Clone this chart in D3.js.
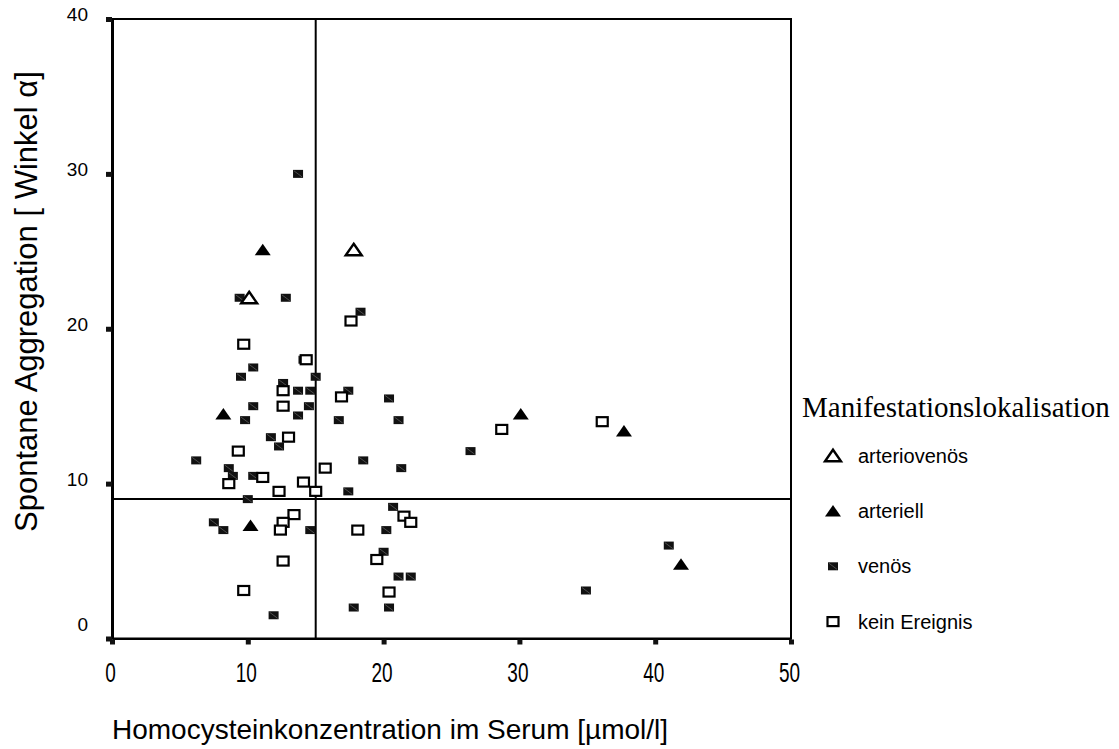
<!DOCTYPE html>
<html>
<head>
<meta charset="utf-8">
<script src="https://cdn.jsdelivr.net/npm/d3@7"></script>
<style>
  body { margin: 0; background: #fff; }
  text { font-family: "Liberation Sans", Arial, sans-serif; fill: #000; }
</style>
</head>
<body>
<svg id="chart" width="1119" height="749"></svg>
<script>
// data: [Homocystein µmol/l, Winkel α]
const arteriovenos = [[17.8, 25.1], [10.1, 22.0]];
const arteriell = [[11.1, 25.1], [8.2, 14.5], [10.2, 7.3], [30.1, 14.5], [37.7, 13.4], [41.9, 4.8]];
const venos = [
  [13.7, 30.0], [9.4, 22.0], [12.8, 22.0], [18.3, 21.1], [14.1, 18.0], [10.4, 17.5],
  [9.5, 16.9], [15.0, 16.9], [12.6, 16.5], [13.7, 16.0], [14.6, 16.0], [17.4, 16.0],
  [10.4, 15.0], [14.5, 15.0], [13.7, 14.4], [9.8, 14.1], [16.7, 14.1], [11.7, 13.0],
  [12.3, 12.4], [6.2, 11.5], [18.5, 11.5], [8.6, 11.0], [8.9, 10.5], [10.4, 10.5],
  [17.4, 9.5], [10.0, 9.0], [7.5, 7.5], [8.2, 7.0], [14.6, 7.0], [11.9, 1.5],
  [17.8, 2.0], [20.4, 15.5], [21.1, 14.1], [26.4, 12.1], [21.3, 11.0], [20.7, 8.5],
  [20.2, 7.0], [20.0, 5.6], [21.1, 4.0], [22.0, 4.0], [20.4, 2.0], [41.0, 6.0],
  [34.9, 3.1]
];
const keinEreignis = [
  [17.6, 20.5], [9.7, 19.0], [14.3, 18.0], [12.6, 16.0], [16.9, 15.6], [12.6, 15.0],
  [13.0, 13.0], [9.3, 12.1], [15.7, 11.0], [11.1, 10.4], [8.6, 10.0], [14.1, 10.1],
  [12.3, 9.5], [15.0, 9.5], [13.4, 8.0], [12.6, 7.5], [12.4, 7.0], [18.1, 7.0],
  [21.5, 7.9], [22.0, 7.5], [19.5, 5.1], [12.6, 5.0], [9.7, 3.1], [20.4, 3.0],
  [28.7, 13.5], [36.1, 14.0]
];
const xTicks = [0, 10, 20, 30, 40, 50];
const yTicks = [0, 10, 20, 30, 40];
const refX = 15;
const refY = 9;
const legendLabels = ['arteriovenös', 'arteriell', 'venös', 'kein Ereignis'];

const svg = d3.select('#chart');

const x = d3.scaleLinear().domain([0, 50]).range([112, 791]);
const y = d3.scaleLinear().domain([0, 40]).range([638.5, 19]);

// marker painters
function drawMarker(g, kind) {
  if (kind === 'arteriovenös') {
    g.append('path').attr('d', 'M0,-6L8,5.5L-8,5.5Z')
      .attr('fill', '#fff').attr('stroke', '#000').attr('stroke-width', 2.4)
      .attr('stroke-linejoin', 'miter');
  } else if (kind === 'arteriell') {
    g.append('path').attr('d', 'M0,-6L8,5.5L-8,5.5Z').attr('fill', '#000');
  } else if (kind === 'venös') {
    g.append('rect').attr('x', -5).attr('y', -4).attr('width', 10).attr('height', 8).attr('fill', '#111');
    g.append('line').attr('x1', -4).attr('y1', -3).attr('x2', 4).attr('y2', 3)
      .attr('stroke', '#777').attr('stroke-width', 0.6);
  } else {
    g.append('rect').attr('x', -5.5).attr('y', -4.5).attr('width', 11).attr('height', 9)
      .attr('fill', '#fff').attr('stroke', '#000').attr('stroke-width', 2.2);
  }
}

// reference lines
svg.append('line')
  .attr('x1', x(refX)).attr('x2', x(refX)).attr('y1', y(40)).attr('y2', y(0))
  .attr('stroke', '#000').attr('stroke-width', 2);
svg.append('line')
  .attr('x1', x(0)).attr('x2', x(50)).attr('y1', y(refY)).attr('y2', y(refY))
  .attr('stroke', '#000').attr('stroke-width', 2);

// points
const groups = [
  ['venös', venos],
  ['kein Ereignis', keinEreignis],
  ['arteriell', arteriell],
  ['arteriovenös', arteriovenos]
];
groups.forEach(([kind, pts]) => {
  svg.append('g').selectAll('g')
    .data(pts)
    .join('g')
    .attr('transform', d => `translate(${x(d[0])},${y(d[1])})`)
    .each(function () { drawMarker(d3.select(this), kind); });
});

// frame
svg.append('rect')
  .attr('x', x(0)).attr('y', y(40))
  .attr('width', x(50) - x(0)).attr('height', y(0) - y(40))
  .attr('fill', 'none').attr('stroke', '#000').attr('stroke-width', 2);

// y axis
const yAxis = svg.append('g')
  .attr('transform', `translate(${x(0)},0)`)
  .call(d3.axisLeft(y).tickValues(yTicks).tickSize(6).tickSizeOuter(0).tickPadding(18));
yAxis.select('.domain').attr('stroke', '#000').attr('stroke-width', 3);
yAxis.selectAll('.tick line').attr('stroke', '#111').attr('stroke-width', 5);
yAxis.selectAll('.tick text')
  .attr('font-size', 19)
  .attr('font-family', '"Liberation Sans", Arial, sans-serif')
  .attr('dy', d => d === 0 ? '-0.4em' : '0.1em');

// x axis
const xAxis = svg.append('g')
  .attr('transform', `translate(0,${y(0)})`)
  .call(d3.axisBottom(x).tickValues(xTicks).tickSize(6).tickSizeOuter(0));
xAxis.select('.domain').attr('stroke', '#000').attr('stroke-width', 2);
xAxis.selectAll('.tick line').attr('stroke', '#111').attr('stroke-width', 5).attr('y1', 1);
xAxis.selectAll('.tick text')
  .attr('font-size', 19)
  .attr('font-family', '"Liberation Sans", Arial, sans-serif')
  .attr('y', null).attr('dy', null)
  .attr('dominant-baseline', 'central')
  .attr('transform', 'translate(-2,33) scale(1,1.5)');

// axis titles
svg.append('text')
  .attr('transform', 'translate(37,532) rotate(-90)')
  .attr('font-size', 31)
  .text('Spontane Aggregation [ Winkel α]');

svg.append('text')
  .attr('x', 112).attr('y', 739)
  .attr('font-size', 28)
  .text('Homocysteinkonzentration im Serum [µmol/l]');

// legend
svg.append('text')
  .attr('x', 802).attr('y', 417)
  .attr('font-size', 29)
  .style('font-family', '"Liberation Serif", "Times New Roman", serif')
  .text('Manifestationslokalisation');

const legend = svg.append('g').selectAll('g')
  .data(legendLabels)
  .join('g')
  .attr('transform', (d, i) => `translate(833,${455.7 + i * 55.3})`);
legend.each(function (d) { drawMarker(d3.select(this), d); });
legend.append('text')
  .attr('x', 25)
  .attr('dominant-baseline', 'central')
  .attr('font-size', 20)
  .text(d => d);
</script>
</body>
</html>
